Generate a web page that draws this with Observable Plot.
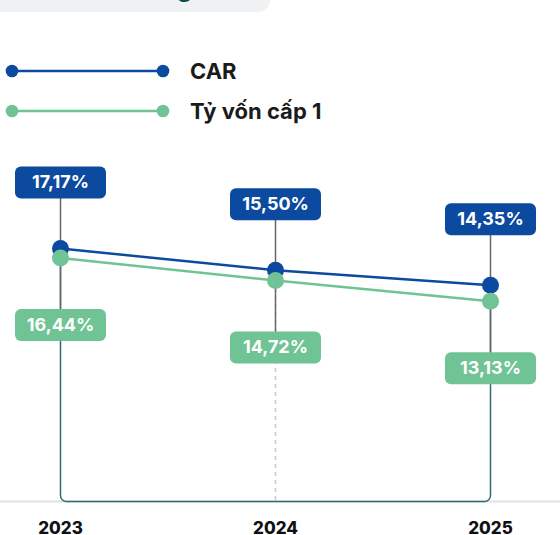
<!DOCTYPE html>
<html><head><meta charset="utf-8">
<script src="https://cdn.jsdelivr.net/npm/d3@7"></script>
<script src="https://cdn.jsdelivr.net/npm/@observablehq/plot@0.6"></script>
<style>
body{margin:0;width:560px;height:535px;overflow:hidden;font-family:Inter,"Noto Sans",sans-serif;background:#fff;position:relative}
.topbox{position:absolute;left:0;top:0;width:270px;height:12px;background:#eff1f3;border-bottom-right-radius:22px;overflow:hidden}
.topbox span{position:absolute;left:177px;top:-23px;font-size:24px;line-height:24px;font-weight:700;color:#0d4a4f}
.item{position:absolute;left:0;height:30px;width:400px}
.item svg{position:absolute;left:0;top:0}
.item .lbl{position:absolute;left:190px;top:0;line-height:30px;font-size:22px;font-weight:700;color:#1b1b1b}
#chart{position:absolute;left:0;top:140px}
</style></head><body>
<div class="topbox"><span>g</span></div>
<div id="legend"></div>
<div id="chart"></div>
<script>
const years = ["2023", "2024", "2025"];
const car = [17.17, 15.50, 14.35];
const tier1 = [16.44, 14.72, 13.13];
const carLabels = ["17,17%", "15,50%", "14,35%"];
const tier1Labels = ["16,44%", "14,72%", "13,13%"];
const seriesNames = ["CAR", "Tỷ vốn cấp 1"];
const seriesColors = ["#0b4a9e", "#6fc394"];
const yDomain = [-2.2, 20];

// legend
const legend = document.getElementById("legend");
seriesNames.forEach((name, i) => {
  const d = document.createElement("div");
  d.className = "item";
  d.style.top = (56 + i * 40) + "px";
  d.innerHTML = `<svg width="180" height="30"><line x1="12" x2="163" y1="15" y2="15" stroke="${seriesColors[i]}" stroke-width="2.5"/><circle cx="12" cy="15" r="6.3" fill="${seriesColors[i]}"/><circle cx="163" cy="15" r="6.3" fill="${seriesColors[i]}"/></svg><div class="lbl">${name}</div>`;
  legend.appendChild(d);
});

const rows = years.map((y, i) => ({year: y, car: car[i], tier1: tier1[i], carLabel: carLabels[i], tier1Label: tier1Labels[i]}));

function roundedCurve(r) {
  return function(context) {
    let pts = [];
    return {
      areaStart() {}, areaEnd() {},
      lineStart() { pts = []; },
      point(x, y) { pts.push([+x, +y]); },
      lineEnd() {
        if (!pts.length) return;
        context.moveTo(pts[0][0], pts[0][1]);
        for (let i = 1; i < pts.length - 1; i++) context.arcTo(pts[i][0], pts[i][1], pts[i + 1][0], pts[i + 1][1], r);
        const last = pts[pts.length - 1];
        context.lineTo(last[0], last[1]);
      }
    };
  };
}

const badge = {
  draw(context) {
    const w = 91, h = 32, r = 6, x = -w / 2, y = -h / 2;
    context.moveTo(x + r, y);
    context.lineTo(x + w - r, y);
    context.arcTo(x + w, y, x + w, y + r, r);
    context.lineTo(x + w, y + h - r);
    context.arcTo(x + w, y + h, x + w - r, y + h, r);
    context.lineTo(x + r, y + h);
    context.arcTo(x, y + h, x, y + h - r, r);
    context.lineTo(x, y + r);
    context.arcTo(x, y, x + r, y, r);
    context.closePath();
  }
};

const boxPath = [
  {year: years[0], v: tier1[0]},
  {year: years[0], v: yDomain[0]},
  {year: years[2], v: yDomain[0]},
  {year: years[2], v: tier1[2]}
];

const chart = Plot.plot({
  width: 560,
  height: 395,
  marginLeft: 0,
  marginRight: 0,
  marginTop: 71,
  marginBottom: 34,
  style: {fontFamily: "Inter, 'Noto Sans', sans-serif", overflow: "visible"},
  x: {type: "point", domain: years, range: [60, 490], padding: 0},
  y: {domain: yDomain, axis: null},
  marks: [
    Plot.ruleY([yDomain[0]], {stroke: "#e2e2e2", strokeWidth: 2}),
    Plot.ruleX([rows[1]], {x: "year", y1: "tier1", y2: yDomain[0], stroke: "#c9c9c9", strokeWidth: 1.5, strokeDasharray: "4,4"}),
    Plot.line(boxPath, {x: "year", y: "v", stroke: "#2f6b72", strokeWidth: 1.5, curve: roundedCurve(6)}),
    Plot.ruleX(rows, {x: "year", y1: "car", y2: "tier1", stroke: "#666", strokeWidth: 1.5, insetTop: -66, insetBottom: -67}),
    Plot.line(rows, {x: "year", y: "car", stroke: seriesColors[0], strokeWidth: 2.5}),
    Plot.line(rows, {x: "year", y: "tier1", stroke: seriesColors[1], strokeWidth: 2.5}),
    Plot.dot(rows, {x: "year", y: "car", r: 8.5, fill: seriesColors[0]}),
    Plot.dot(rows, {x: "year", y: "tier1", r: 8.5, fill: seriesColors[1]}),
    Plot.dot(rows, {x: "year", y: "car", symbol: badge, fill: seriesColors[0], dy: -66}),
    Plot.dot(rows, {x: "year", y: "tier1", symbol: badge, fill: seriesColors[1], dy: 67}),
    Plot.text(rows, {x: "year", y: "car", text: "carLabel", dy: -66, fill: "white", fontSize: 18, fontWeight: 700}),
    Plot.text(rows, {x: "year", y: "tier1", text: "tier1Label", dy: 67, fill: "white", fontSize: 18, fontWeight: 700}),
    Plot.axisX({tickSize: 0, tickPadding: 20, fontSize: 17, fontWeight: 800, fill: "#111", label: null})
  ]
});
document.getElementById("chart").appendChild(chart);
</script>
</body></html>
